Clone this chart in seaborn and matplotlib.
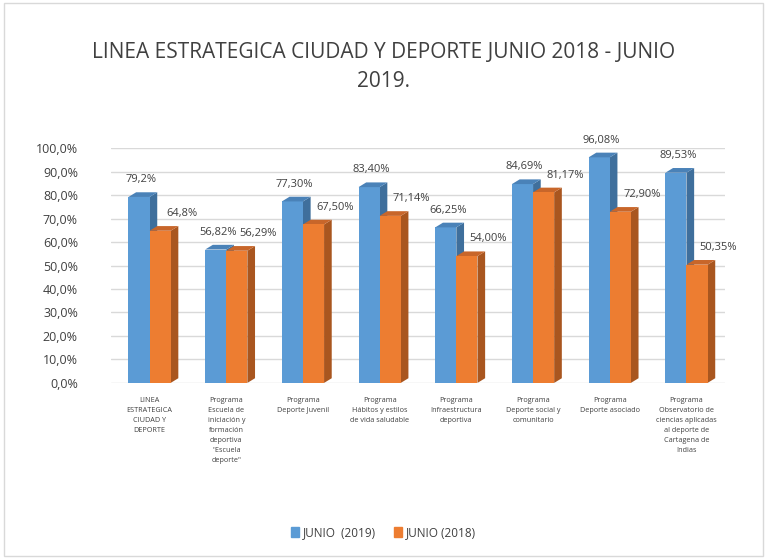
import pandas as pd
import matplotlib
matplotlib.use("Agg")
import matplotlib.pyplot as plt
import seaborn as sns
from matplotlib.patches import Polygon

categories = [
    "LINEA ESTRATEGICA CIUDAD Y DEPORTE",
    "Programa Escuela de iniciación y formación deportiva \"Escuela deporte\"",
    "Programa Deporte Juvenil",
    "Programa Hábitos y estilos de vida saludable",
    "Programa Infraestructura deportiva",
    "Programa Deporte social y comunitario",
    "Programa Deporte asociado",
    "Programa Observatorio de ciencias aplicadas al deporte de Cartagena de Indias",
]
tick_labels = [
    "LINEA\nESTRATEGICA\nCIUDAD Y\nDEPORTE",
    "Programa\nEscuela de\niniciación y\nformación\ndeportiva\n\"Escuela\ndeporte\"",
    "Programa\nDeporte Juvenil",
    "Programa\nHábitos y estilos\nde vida saludable",
    "Programa\nInfraestructura\ndeportiva",
    "Programa\nDeporte social y\ncomunitario",
    "Programa\nDeporte asociado",
    "Programa\nObservatorio de\nciencias aplicadas\nal deporte de\nCartagena de\nIndias",
]
junio_2019 = [79.2, 56.82, 77.30, 83.40, 66.25, 84.69, 96.08, 89.53]
junio_2018 = [64.8, 56.29, 67.50, 71.14, 54.00, 81.17, 72.90, 50.35]
labels_2019 = ["79,2%", "56,82%", "77,30%", "83,40%", "66,25%", "84,69%", "96,08%", "89,53%"]
labels_2018 = ["64,8%", "56,29%", "67,50%", "71,14%", "54,00%", "81,17%", "72,90%", "50,35%"]
series = ["JUNIO  (2019)", "JUNIO (2018)"]

df = pd.DataFrame({
    "categoria": categories * 2,
    "serie": [series[0]] * 8 + [series[1]] * 8,
    "valor": junio_2019 + junio_2018,
})

sns.set_theme(style="white")
plt.rcParams['font.family'] = ['Open Sans', 'DejaVu Sans']

colors = {series[0]: "#5B9BD5", series[1]: "#ED7D31"}
side_colors = {series[0]: "#3F6F9C", series[1]: "#A9561F"}
top_colors = {series[0]: "#4A82B8", series[1]: "#C8662A"}

fig = plt.figure(figsize=(7.67, 5.59), dpi=100)
ax = fig.add_axes([0.145, 0.315, 0.8, 0.42])

sns.barplot(data=df, x="categoria", y="valor", hue="serie", palette=colors,
            width=0.55, ax=ax, saturation=1, legend=False, zorder=3,
            linewidth=0, edgecolor="none")

ax.set_ylim(0, 100)
ax.set_yticks(range(0, 101, 10))
ax.set_yticklabels([f"{v},0%" for v in range(0, 101, 10)], fontsize=9, color="#404040")
ax.set_xticks(range(8))
ax.set_xticklabels(tick_labels, fontsize=5.2, color="#404040", linespacing=1.6, va="top")
ax.tick_params(axis="x", length=0, pad=10)
ax.tick_params(axis="y", length=0, pad=24)
ax.set_xlabel("")
ax.set_ylabel("")
ax.yaxis.grid(True, color="#D9D9D9", linewidth=1)
ax.set_axisbelow(True)
for s in ax.spines.values():
    s.set_visible(False)

# fake 3D depth on each bar
dx, dy = 0.1, 2.0
bars = ax.patches[:16]
all_labels = labels_2019 + labels_2018
for i, p in enumerate(bars):
    ser = series[0] if i < 8 else series[1]
    x0, w, h = p.get_x(), p.get_width(), p.get_height()
    side = Polygon([(x0 + w, 0), (x0 + w + dx, dy), (x0 + w + dx, h + dy), (x0 + w, h)],
                   closed=True, facecolor=side_colors[ser], edgecolor="none",
                   zorder=2 if i < 8 else 4)
    top = Polygon([(x0, h), (x0 + dx, h + dy), (x0 + w + dx, h + dy), (x0 + w, h)],
                  closed=True, facecolor=top_colors[ser], edgecolor="none", zorder=4)
    ax.add_patch(side)
    ax.add_patch(top)
    p.set_zorder(3 if i < 8 else 5)
    off = (-4, 5) if i < 8 else (10, 5)
    ax.annotate(all_labels[i], (x0 + w / 2 + dx, h + dy), xytext=off,
                textcoords="offset points", ha="center", va="bottom",
                fontsize=8, color="#404040", zorder=6)

ax.set_xlim(-0.5, 7.5)

fig.text(0.5, 0.925, "LINEA ESTRATEGICA CIUDAD Y DEPORTE JUNIO 2018 - JUNIO\n2019.",
         ha="center", va="top", fontsize=15, color="#404040", linespacing=1.5)

handles = [plt.Rectangle((0, 0), 1, 1, color=colors[s]) for s in series]
fig.legend(handles, series, loc="center", bbox_to_anchor=(0.5, 0.047), ncol=2,
           frameon=False, fontsize=8.5, handlelength=0.7, handleheight=0.9,
           handletextpad=0.3, columnspacing=1.5, labelcolor="#404040")

border = plt.Rectangle((0.005, 0.005), 0.99, 0.99, transform=fig.transFigure,
                       fill=False, edgecolor="#D9D9D9", linewidth=1)
fig.patches.append(border)

fig.savefig("out.png", dpi=100)
